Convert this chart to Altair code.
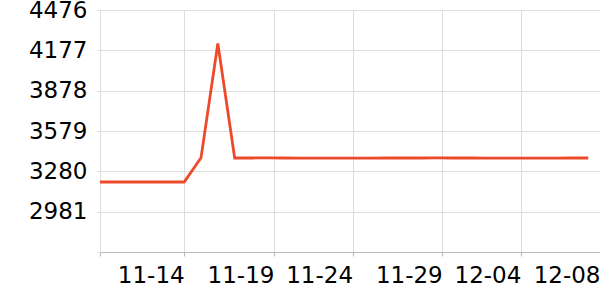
import altair as alt
import pandas as pd

# Data: daily values from 11-09 to 12-08 (index 0..29)
day_index = list(range(30))
values = [3201, 3201, 3201, 3201, 3201, 3201,
          3380, 4228, 3379, 3379,
          3380, 3379, 3378, 3378, 3378, 3378, 3378, 3379, 3379, 3379,
          3380, 3379, 3379, 3378, 3378, 3378, 3378, 3378, 3379, 3379]

# Axis ticks
x_tick_values = [0, 5, 10.33, 15, 20.33, 25, 29.7]
x_tick_labels = ["", "11-14", "11-19", "11-24", "11-29", "12-04", "12-08"]
y_tick_values = [2682, 2981, 3280, 3579, 3878, 4177, 4476]
y_tick_labels = ["", "2981", "3280", "3579", "3878", "4177", "4476"]

df = pd.DataFrame({"i": day_index, "v": values})

def label_expr(vals, labels):
    parts = []
    for v, l in zip(vals, labels):
        parts.append(f"abs(datum.value - {v}) < 0.01 ? '{l}'")
    return " : ".join(parts) + " : ''"

chart = alt.Chart(df).mark_line(color="#ec4a2b", strokeWidth=2.8, clip=True).encode(
    x=alt.X("i:Q",
            scale=alt.Scale(domain=[0, 29.7], nice=False, zero=False),
            axis=alt.Axis(values=x_tick_values,
                          labelExpr=label_expr(x_tick_values, x_tick_labels),
                          title=None, labelAlign="right", labelBound=False,
                          labelFlush=False, labelOverlap=False,
                          labelFont="DejaVu Sans", labelFontSize=23, labelColor="#000",
                          labelPadding=8, tickSize=4, tickColor="#bbbbbb",
                          domainColor="#bbbbbb", gridColor="#dddddd")),
    y=alt.Y("v:Q",
            scale=alt.Scale(domain=[2682, 4476], nice=False, zero=False),
            axis=alt.Axis(values=y_tick_values,
                          labelExpr=label_expr(y_tick_values, y_tick_labels),
                          title=None, labelBaseline="middle", labelBound=False,
                          labelFlush=False, labelOverlap=False,
                          labelFont="DejaVu Sans", labelFontSize=23, labelColor="#000",
                          labelPadding=10, tickSize=3, tickColor="#dddddd",
                          domain=False, gridColor="#dddddd")),
).properties(
    width=500, height=242,
    autosize=alt.AutoSizeParams(type="none"),
    padding={"left": 100, "top": 10, "right": 0, "bottom": 48},
).configure_view(stroke=None).configure(background="white")

chart.save("out.html", embed_options={"renderer": "svg", "actions": False})
